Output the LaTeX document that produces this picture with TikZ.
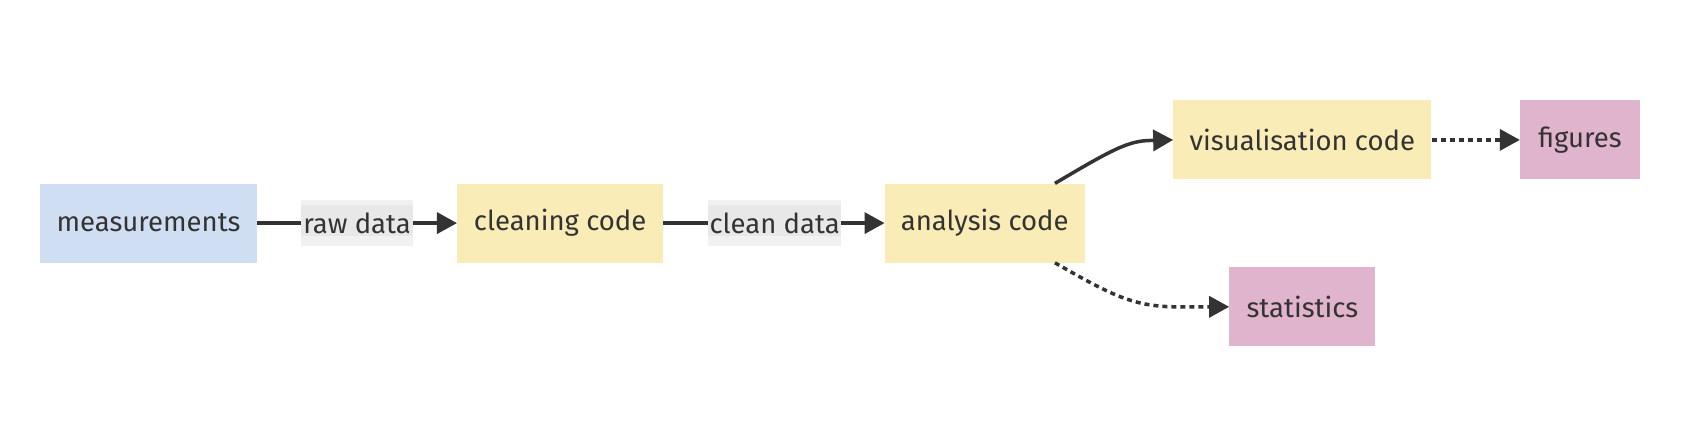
\documentclass[tikz,border=0pt]{standalone}
\usepackage{fontspec}
\setmainfont{Fira Sans}
\usetikzlibrary{arrows.meta,backgrounds}
\definecolor{txt}{HTML}{333333}
\definecolor{bluefill}{HTML}{D0DEF4}
\definecolor{yellowfill}{HTML}{F9ECB7}
\definecolor{pinkfill}{HTML}{E0B4CD}
\definecolor{labelfill}{HTML}{E8E8E8}
\definecolor{labelouter}{HTML}{F1F1F1}
\tikzset{
  box/.style={rectangle, inner sep=0pt, text=txt, font=\fontsize{27.5}{32}\selectfont},
  lbl/.style={rectangle, inner sep=0pt, text=txt, font=\fontsize{27.5}{32}\selectfont, minimum height=45pt},
  conn/.style={draw=txt, line width=3.5pt},
  arr/.style={conn, -{Triangle[length=20pt,width=21pt]}},
  dot/.style={dash pattern=on 5pt off 4pt}
}
\begin{document}
\begin{tikzpicture}[x=1.0804pt,y=-1.0804pt]
\useasboundingbox (0,0) rectangle (1568,399.85);
\node[box, fill=bluefill, minimum width=217pt, minimum height=79pt] (m) at (137.5,206.5) {measurements};
\node[lbl, minimum width=111pt] (rd) at (330.5,206.5) {raw data};
\node[box, fill=yellowfill, minimum width=206pt, minimum height=79pt] (cc) at (518.5,206.5) {cleaning code};
\node[lbl, minimum width=132pt] (cd) at (717,206.5) {clean data};
\node[box, fill=yellowfill, minimum width=200pt, minimum height=79pt] (ac) at (911.5,206.5) {analysis code};
\node[box, fill=yellowfill, minimum width=258pt, minimum height=79pt] (vc) at (1205.5,129.5) {visualisation code};
\node[box, fill=pinkfill, minimum width=120pt, minimum height=79pt] (fg) at (1462.5,129.5) {figures};
\node[box, fill=pinkfill, minimum width=146pt, minimum height=79pt] (st) at (1205.5,284) {statistics};

\begin{scope}[on background layer]
  \foreach \l in {rd,cd}{
    \fill[labelouter] (\l.north west) rectangle (\l.south east);
    \fill[labelfill] ([yshift=-4.3pt]\l.north west) rectangle ([yshift=9.7pt]\l.south east);
  }
\end{scope}

\draw[conn] (m.east) -- (rd.west);
\draw[arr] (rd.east) -- (cc.west);
\draw[conn] (cc.east) -- (cd.west);
\draw[arr] (cd.east) -- (ac.west);
\draw[arr] ([xshift=-30pt]ac.north east) .. controls (1030,138) and (1045,130) .. (1066,130) -- (vc.west);
\draw[arr, dot] ([xshift=-30pt]ac.south east) .. controls (1030,274) and (1050,284) .. (1090,284) -- (st.west);
\draw[arr, dot] (vc.east) -- (fg.west);
\end{tikzpicture}
\end{document}
